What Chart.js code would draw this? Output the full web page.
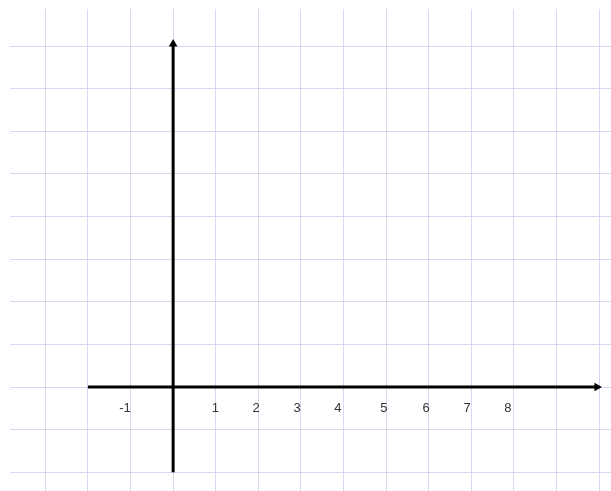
<!DOCTYPE html>
<html>
<head>
<meta charset="utf-8">
<script src="https://cdn.jsdelivr.net/npm/chart.js@4.4.0/dist/chart.umd.min.js"></script>
<style>
	html, body { margin: 0; padding: 0; background: #fff; }
	#wrap { width: 611px; height: 491px; }
</style>
</head>
<body>
<div id="wrap"><canvas id="myChart" width="611" height="491"></canvas></div>
<script>
// -- DATA ---------------//
const xRange = [-3.83, 10.28];       // visible x range (grid units)
const yRange = [-2.44, 8.87];        // visible y range (grid units)
const xAxisLine = [[-2, 0], [9.95, 0]];   // horizontal axis, arrow at the end
const yAxisLine = [[0, -2], [0, 8.05]];   // vertical axis, arrow at the end
const tickLabels = ['-1', '1', '2', '3', '4', '5', '6', '7', '8'];
const tickLabelX = [-1.13, 0.99, 1.95, 2.91, 3.87, 4.95, 5.94, 6.90, 7.86];
const tickLabelY = -0.5;

const toPoints = arr => arr.map(p => ({ x: p[0], y: p[1] }));

// draws the number labels under the x axis
const labelPlugin = {
	id: 'axisLabels',
	afterDatasetsDraw(chart) {
		const c = chart.ctx;
		const xs = chart.scales.x, ys = chart.scales.y;
		c.save();
		c.font = '13px "Liberation Sans", Arial, sans-serif';
		c.fillStyle = '#333';
		c.textAlign = 'center';
		c.textBaseline = 'middle';
		tickLabels.forEach((t, i) => {
			c.fillText(t, xs.getPixelForValue(tickLabelX[i]), ys.getPixelForValue(tickLabelY));
		});
		c.restore();
	}
};

const ctx = document.getElementById('myChart').getContext('2d');
const gridColor = 'rgba(205, 210, 238, 0.85)';

const myChart = new Chart(ctx, {
	type: 'scatter',
	data: {
		datasets: [
			{
				data: toPoints(xAxisLine),
				showLine: true,
				borderColor: '#000',
				backgroundColor: '#000',
				borderWidth: 3,
				pointStyle: 'triangle',
				rotation: 90,
				pointRadius: [0, 5],
				pointBorderWidth: 0,
			},
			{
				data: toPoints(yAxisLine),
				showLine: true,
				borderColor: '#000',
				backgroundColor: '#000',
				borderWidth: 3,
				pointStyle: 'triangle',
				rotation: 0,
				pointRadius: [0, 5],
				pointBorderWidth: 0,
			},
		],
	},
	options: {
		responsive: false,
		maintainAspectRatio: false,
		animation: false,
		layout: {
			autoPadding: false, // keep the arrow points from shrinking the grid
			padding: { left: 10, top: 9, right: 0, bottom: 0 }
		},
		plugins: {
			legend: { display: false },
			tooltip: { enabled: false },
		},
		scales: {
			x: {
				type: 'linear',
				min: xRange[0],
				max: xRange[1],
				border: { display: false },
				grid: { color: gridColor, lineWidth: 1, drawTicks: false },
				ticks: { display: false, stepSize: 1, includeBounds: false },
			},
			y: {
				type: 'linear',
				min: yRange[0],
				max: yRange[1],
				border: { display: false },
				grid: { color: gridColor, lineWidth: 1, drawTicks: false },
				ticks: { display: false, stepSize: 1, includeBounds: false },
			},
		},
	},
	plugins: [labelPlugin]
});
</script>
</body>
</html>
